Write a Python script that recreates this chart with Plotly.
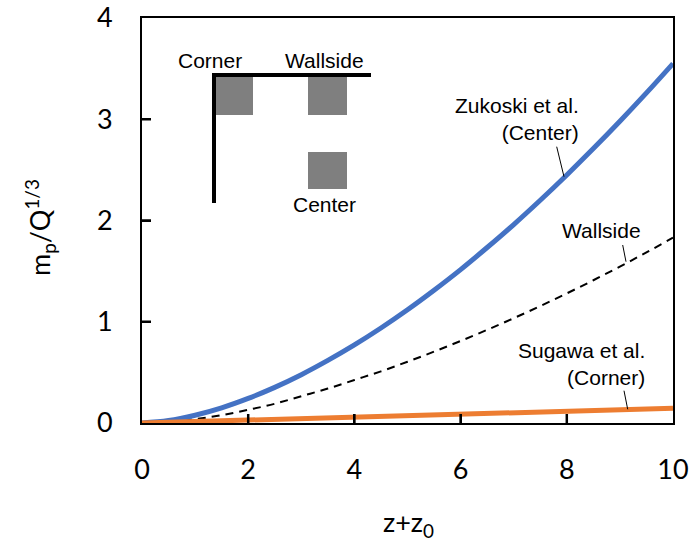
import plotly.graph_objects as go

# ---- data ----
z = [0, 0.5, 1, 1.5, 2, 2.5, 3, 3.5, 4, 4.5, 5, 5.5, 6, 6.5, 7, 7.5, 8, 8.5, 9, 9.5, 10]
center_zukoski = [0, 0.024, 0.077, 0.15, 0.243, 0.352, 0.477, 0.618, 0.771, 0.938, 1.118,
                  1.311, 1.515, 1.733, 1.96, 2.2, 2.45, 2.71, 2.98, 3.26, 3.55]
wallside = [0, 0.012, 0.038, 0.078, 0.13, 0.19, 0.265, 0.34, 0.425, 0.51, 0.605,
            0.705, 0.81, 0.92, 1.035, 1.155, 1.28, 1.41, 1.545, 1.685, 1.83]
corner_sugawa = [0, 0.007, 0.0145, 0.022, 0.029, 0.036, 0.0435, 0.051, 0.058, 0.065, 0.0725,
                 0.080, 0.087, 0.094, 0.1015, 0.109, 0.116, 0.123, 0.1305, 0.138, 0.145]
x_ticks = [0, 2, 4, 6, 8, 10]
y_ticks = [0, 1, 2, 3, 4]

W, H = 691, 545
L, R, T, B = 142, 673, 18, 423  # plot area in pixels
TICK = 9  # tick length in pixels


def dx(px):
    return (px - L) / (R - L) * 10


def dy(py):
    return (B - py) / (B - T) * 4


def paper_x(px):
    return (px - L) / (R - L)


def paper_y(py):
    return (B - py) / (B - T)


fig = go.Figure()
fig.add_trace(go.Scatter(x=z, y=wallside, mode="lines",
                         line=dict(color="black", width=2, dash="8px,6px", shape="spline"), hoverinfo="skip"))
fig.add_trace(go.Scatter(x=z, y=center_zukoski, mode="lines",
                         line=dict(color="#4472C4", width=5, shape="spline"), hoverinfo="skip"))
fig.add_trace(go.Scatter(x=z, y=corner_sugawa, mode="lines",
                         line=dict(color="#ED7D31", width=5), hoverinfo="skip"))

shapes = []
# inside tick marks (drawn above the curves)
tick_dy = dy(B - TICK)
tick_dx = dx(L + TICK)
for t in x_ticks[1:-1]:
    shapes.append(dict(type="line", xref="x", yref="y", x0=t, x1=t, y0=0, y1=tick_dy,
                       line=dict(color="black", width=2.5), layer="above"))
for t in y_ticks[1:-1]:
    shapes.append(dict(type="line", xref="x", yref="y", x0=0, x1=tick_dx, y0=t, y1=t,
                       line=dict(color="black", width=2.5), layer="above"))
# inset diagram
gray = "#7F7F7F"
for (x0, x1, y0, y1) in [(215.7, 253, 77, 115), (308, 347, 77, 115), (308, 347, 152, 189)]:
    shapes.append(dict(type="rect", xref="x", yref="y", x0=dx(x0), x1=dx(x1), y0=dy(y1), y1=dy(y0),
                       fillcolor=gray, line=dict(width=0), layer="above"))
shapes.append(dict(type="line", xref="x", yref="y", x0=dx(212), x1=dx(371), y0=dy(75), y1=dy(75),
                   line=dict(color="black", width=4)))
shapes.append(dict(type="line", xref="x", yref="y", x0=dx(214), x1=dx(214), y0=dy(73), y1=dy(203),
                   line=dict(color="black", width=4)))
# leader lines
for (x0, y0, x1, y1) in [(556.7, 146.7, 564, 176.7), (622.7, 245, 626, 261.7), (624, 390.7, 627.7, 409.3)]:
    shapes.append(dict(type="line", xref="x", yref="y", x0=dx(x0), y0=dy(y0), x1=dx(x1), y1=dy(y1),
                       line=dict(color="black", width=1)))

afont = dict(family="Liberation Sans, Arial", size=21, color="black")
tfont = dict(family="Lato", size=27, color="black")
annotations = [
    dict(x=dx(210), y=dy(60), text="Corner", showarrow=False, font=afont, xanchor="center", yanchor="middle"),
    dict(x=dx(324), y=dy(60), text="Wallside", showarrow=False, font=afont, xanchor="center", yanchor="middle"),
    dict(x=dx(324.5), y=dy(204), text="Center", showarrow=False, font=afont, xanchor="center", yanchor="middle"),
    dict(x=dx(581), y=dy(118.5), text="Zukoski et al.<br>(Center)", showarrow=False, font=afont,
         xanchor="right", yanchor="middle", align="right"),
    dict(x=dx(643), y=dy(230.7), text="Wallside", showarrow=False, font=afont, xanchor="right", yanchor="middle"),
    dict(x=dx(647), y=dy(364), text="Sugawa et al.<br>(Corner)", showarrow=False, font=afont,
         xanchor="right", yanchor="middle", align="right"),
    # axis titles
    dict(x=paper_x(408), y=paper_y(523), xref="paper", yref="paper", text="z+z<sub>0</sub>", showarrow=False,
         font=tfont, xanchor="center", yanchor="middle"),
    dict(x=paper_x(40), y=paper_y(228), xref="paper", yref="paper", text="m<sub>p</sub>/Q<sup>1/3</sup>",
         showarrow=False, font=tfont, xanchor="center", yanchor="middle", textangle=-90),
]

axis_common = dict(showgrid=False, zeroline=False, showline=True, linecolor="black", linewidth=2,
                   mirror=True, ticks="inside", ticklen=TICK, tickwidth=2, tickcolor="black",
                   automargin=False, layer="above traces",
                   tickfont=dict(family="Lato", size=27, color="black"))

fig.update_layout(
    width=W, height=H,
    margin=dict(l=L, r=W - R, t=T, b=H - B, pad=0, autoexpand=False),
    plot_bgcolor="white", paper_bgcolor="white",
    showlegend=False,
    xaxis=dict(range=[0, 10], tickvals=x_ticks, ticklabelstandoff=22, **axis_common),
    yaxis=dict(range=[0, 4], tickvals=y_ticks, ticklabelstandoff=22, **axis_common),
    shapes=shapes,
    annotations=annotations,
)

fig.write_html("out.html", config={"displayModeBar": False},
               post_script="document.body.style.margin='0';document.body.style.padding='0';")
